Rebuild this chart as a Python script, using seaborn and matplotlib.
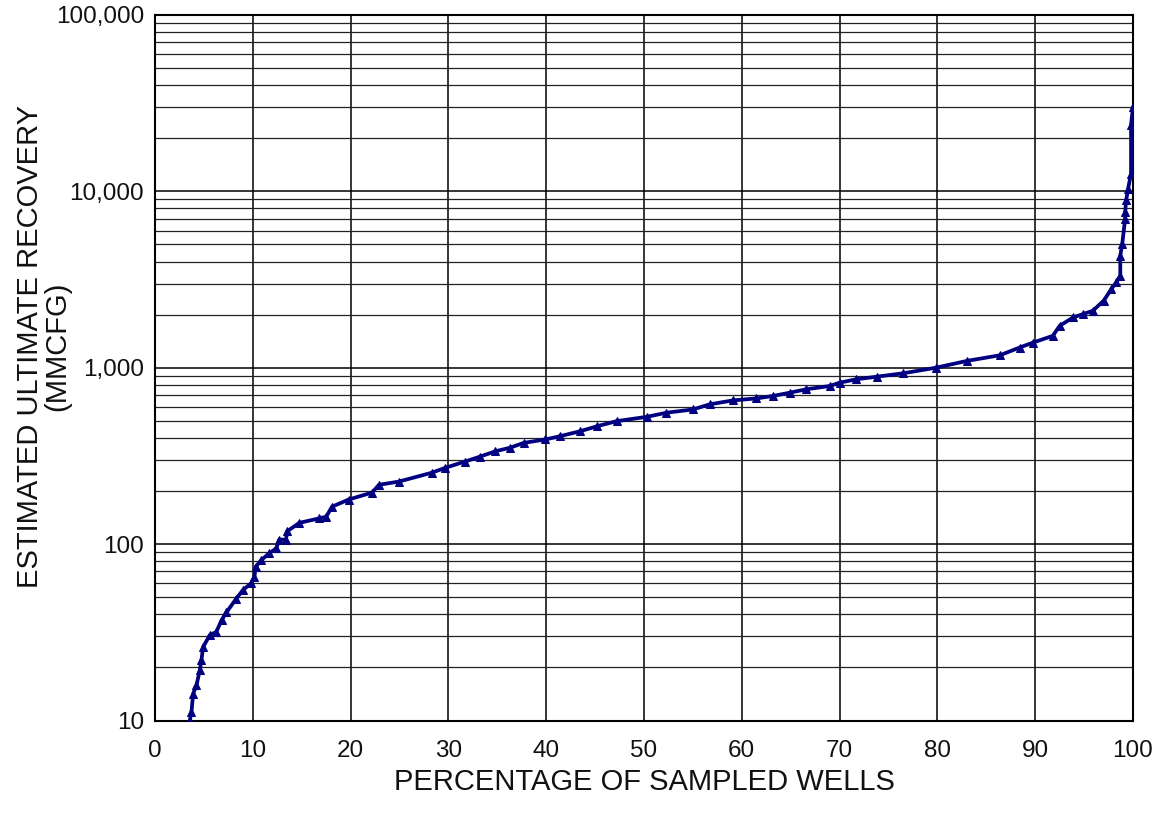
import matplotlib
matplotlib.use("Agg")
import matplotlib.pyplot as plt
import matplotlib.ticker as mticker
import seaborn as sns
import pandas as pd

pct_wells = [3.56, 3.73, 3.9, 4.24, 4.58, 4.75, 4.92, 5.6, 6.27, 6.8, 7.3, 8.3, 9.0, 9.84,
             10.17, 10.3, 10.85, 11.7, 12.4, 12.7, 13.4, 13.5, 14.75, 16.8, 17.5, 18.1, 19.8,
             22.2, 22.9, 24.9, 28.3, 29.7, 31.7, 33.2, 34.8, 36.3, 37.7, 39.9, 41.4, 43.5,
             45.2, 47.2, 50.3, 52.3, 55.0, 56.7, 59.1, 61.5, 63.2, 64.9, 66.6, 69.0, 70.0,
             71.7, 73.8, 76.5, 79.9, 83.0, 86.4, 88.4, 89.8, 91.8, 92.5, 93.9, 94.9, 95.9,
             97.0, 97.8, 98.3, 98.7, 98.7, 98.9, 99.2, 99.2, 99.3, 99.5, 99.8, 99.8, 100.0]
eur_mmcfg = [10, 11.2, 14.2, 15.8, 19.3, 22, 26.1, 30.5, 31.8, 37, 41, 49, 55, 60,
             65.5, 74.5, 81, 89, 94.5, 106, 106, 118, 132, 140, 143, 163, 179,
             196, 217, 226, 254, 271, 294, 313, 336, 352, 375, 392, 409, 437,
             466, 498, 527, 556, 580, 620, 653, 670, 692, 722, 755, 788, 823,
             860, 890, 930, 1002, 1093, 1177, 1302, 1390, 1517, 1729, 1932, 2015, 2106,
             2400, 2797, 3052, 3330, 4328, 5046, 7000, 7640, 8900, 10370, 12600, 23800, 30200]

x_ticks = [0, 10, 20, 30, 40, 50, 60, 70, 80, 90, 100]
y_ticks = [10, 100, 1000, 10000, 100000]
y_tick_labels = ["10", "100", "1,000", "10,000", "100,000"]

sns.set_style("white")
plt.rcParams['font.family'] = ['Liberation Sans', 'DejaVu Sans']

df = pd.DataFrame({"pct": pct_wells, "eur": eur_mmcfg})

fig = plt.figure(figsize=(11.61, 8.22), dpi=100)
ax = fig.add_axes([155 / 1161, 1 - 720.5 / 822, (1133 - 155) / 1161, (720.5 - 15) / 822])

sns.lineplot(data=df, x="pct", y="eur", sort=False, estimator=None, ax=ax,
             color="#000080", linewidth=2.7, marker="^", markersize=5.5,
             markeredgecolor="#000080", markerfacecolor="#000080", zorder=5)

ax.set_yscale("log")
ax.set_xlim(0, 100)
ax.set_ylim(10, 100000)
ax.set_xticks(x_ticks)
ax.set_xticklabels([str(t) for t in x_ticks])
ax.yaxis.set_major_locator(mticker.FixedLocator(y_ticks))
ax.set_yticklabels(y_tick_labels)
ax.yaxis.set_minor_locator(mticker.LogLocator(base=10, subs=range(2, 10), numticks=20))
ax.yaxis.set_minor_formatter(mticker.NullFormatter())

ax.grid(which="major", axis="both", color="black", linewidth=1.1)
ax.grid(which="minor", axis="y", color="#222222", linewidth=0.9)
ax.set_axisbelow(True)

for s in ax.spines.values():
    s.set_color("black")
    s.set_linewidth(1.5)

ax.tick_params(axis="both", which="major", direction="out", length=6, width=1.2,
               color="black", labelsize=17.5, labelcolor="#111111", pad=8)
ax.tick_params(axis="y", which="minor", length=0)
ax.tick_params(axis="y", which="major", pad=2)

ax.set_xlabel("PERCENTAGE OF SAMPLED WELLS", fontsize=21, labelpad=4, color="#111111")
ax.set_ylabel("ESTIMATED ULTIMATE RECOVERY\n(MMCFG)", fontsize=21,
              color="#111111", linespacing=0.95)
ax.yaxis.set_label_coords(-0.086, 0.53)

fig.savefig("out.png", dpi=100, facecolor="white")
